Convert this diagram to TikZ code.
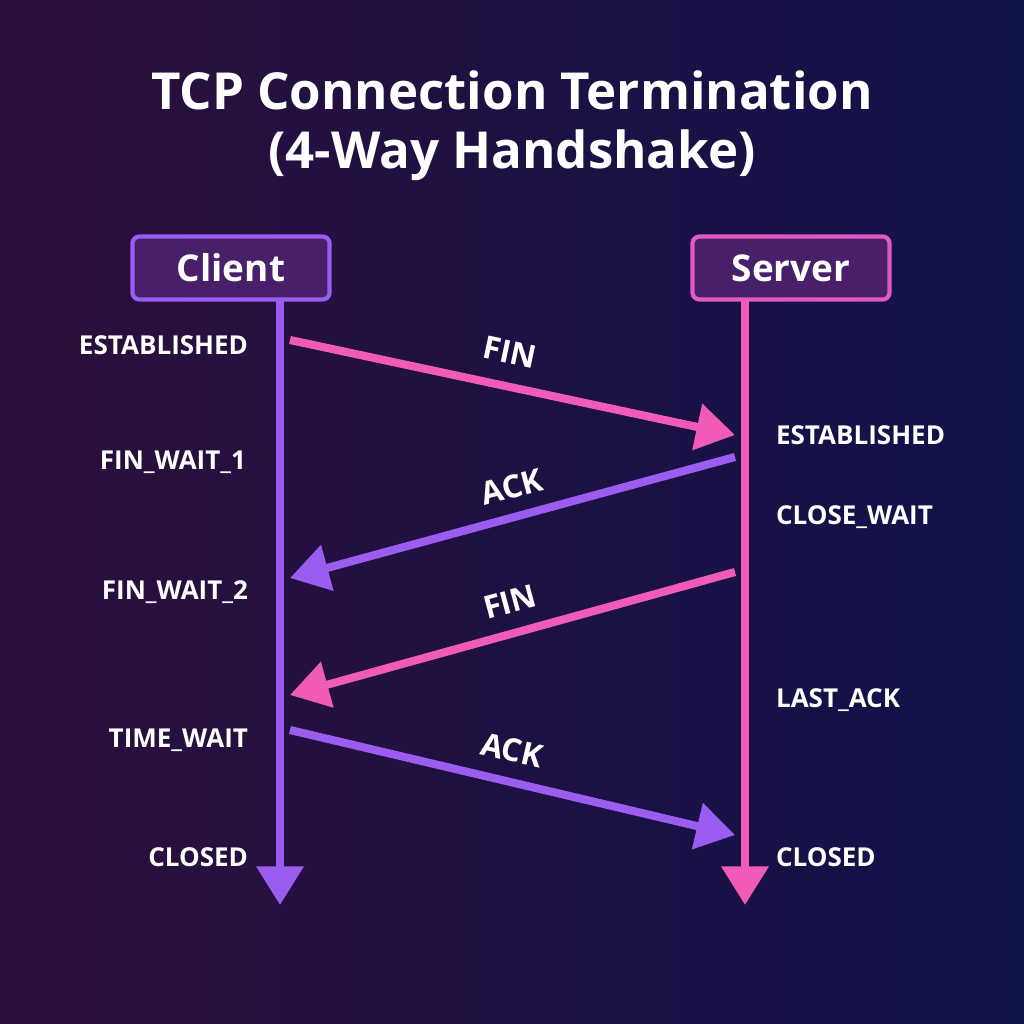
\documentclass[tikz,border=0pt]{standalone}
\usepackage{fontspec}
\setmainfont{Open Sans}
\usetikzlibrary{positioning,arrows.meta}
\definecolor{bgl}{HTML}{2C0F3C}
\definecolor{bgr}{HTML}{10124A}
\definecolor{pinkc}{HTML}{F05AB8}
\definecolor{violc}{HTML}{9B5CF0}
\definecolor{boxc}{HTML}{4A1F6A}
\begin{document}
\begin{tikzpicture}[x=0.01cm,y=-0.01cm,line width=2.3pt]
   \tikzstyle{every node} = [text=white, font=\bfseries];
   \tikzstyle{state} = [font=\bfseries\fontsize{7.4}{10}\selectfont, inner sep=0pt];
   \tikzstyle{msg} = [font=\bfseries\fontsize{9}{12}\selectfont, inner sep=0pt];
   \tikzstyle{party} = [rectangle, rounded corners=2pt, draw=violc, fill=boxc, line width=1.2pt,
                        minimum width=1.97cm, minimum height=0.63cm, font=\bfseries\fontsize{10.5}{14}\selectfont];
   \tikzstyle{tip} = [-{Triangle[length=11pt,width=13pt]}];
   \shade[left color=bgl, right color=bgr] (0,0) rectangle (1024,1024);
   \useasboundingbox (0,0) rectangle (1024,1024);
   \node[font=\bfseries\fontsize{14.5}{18}\selectfont] (t1) at (512,90) {TCP Connection Termination};
   \node[font=\bfseries\fontsize{14.5}{18}\selectfont] (t2) at (512,155) {(4-Way Handshake)};
   \node[party] (c) at (231,268) {Client};
   \node[party, draw=pinkc!80!violc] (s) at (791,268) {Server};
   \coordinate (ce) at (280,905);
   \coordinate (se) at (745,905);
   \draw[tip, violc] (280,300) -- (ce);
   \draw[tip, pinkc] (745,300) -- (se);
   % states
   \node[state, anchor=east] (l1) at (252,345) {ESTABLISHED};
   \node[state, anchor=east] (l2) at (250,462) {FIN\_WAIT\_1};
   \node[state, anchor=east] (l3) at (252,592) {FIN\_WAIT\_2};
   \node[state, anchor=east] (l4) at (252,740) {TIME\_WAIT};
   \node[state, anchor=east] (l5) at (252,857) {CLOSED};
   \node[state, anchor=west] (r1) at (772,435) {ESTABLISHED};
   \node[state, anchor=west] (r2) at (772,517) {CLOSE\_WAIT};
   \node[state, anchor=west] (r3) at (772,700) {LAST\_ACK};
   \node[state, anchor=west] (r4) at (772,857) {CLOSED};
   % messages
   \coordinate (a1) at (290,340);  \coordinate (b1) at (735,435);
   \coordinate (a2) at (735,457);  \coordinate (b2) at (290,578);
   \coordinate (a3) at (735,572);  \coordinate (b3) at (290,695);
   \coordinate (a4) at (290,730);  \coordinate (b4) at (735,835);
   \draw[tip, pinkc] (a1) -- (b1);
   \draw[tip, violc] (a2) -- (b2);
   \draw[tip, pinkc] (a3) -- (b3);
   \draw[tip, violc] (a4) -- (b4);
   \node[msg, rotate=-12] (m1) at (510,352) {FIN};
   \node[msg, rotate=15] (m2) at (512,487) {ACK};
   \node[msg, rotate=15] (m3) at (510,602) {FIN};
   \node[msg, rotate=-13] (m4) at (512,750) {ACK};
\end{tikzpicture}
\end{document}
